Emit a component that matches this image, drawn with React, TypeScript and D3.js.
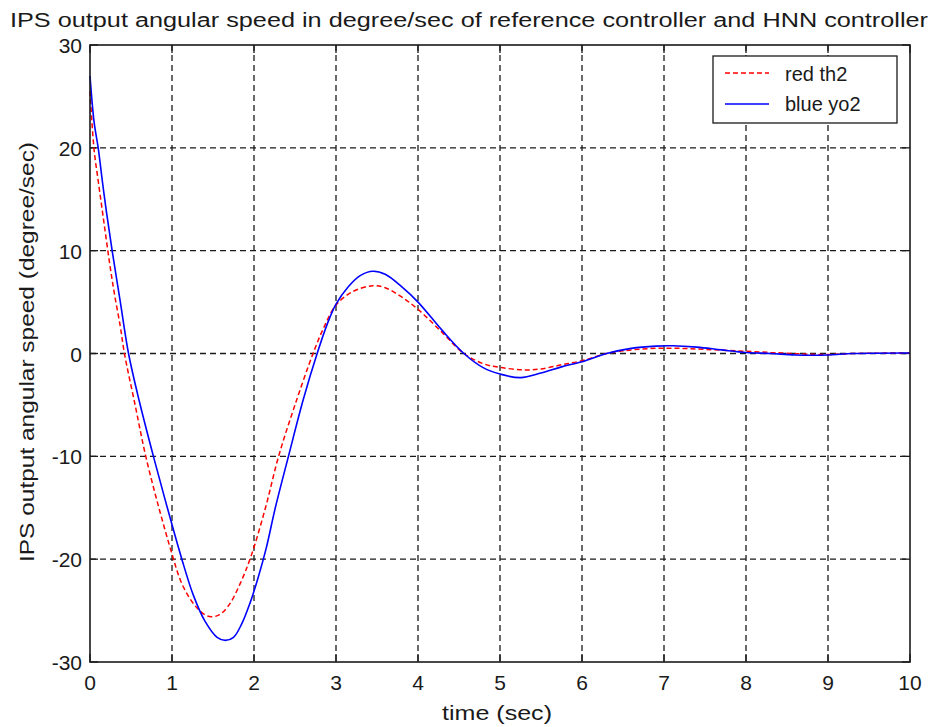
import React from 'react'
import * as d3 from 'd3'

// time samples (sec) and readings (degree/sec) for both controllers
const redT = [0, 0.05, 0.1, 0.15, 0.2, 0.25, 0.3, 0.37, 0.42, 0.55, 0.68, 0.84, 1.0, 1.1, 1.2, 1.3, 1.4, 1.48, 1.58, 1.7, 1.83, 1.96, 2.14, 2.3, 2.5, 2.72, 2.85, 3.0, 3.2, 3.45, 3.6, 3.8, 4.0, 4.3, 4.56, 4.8, 5.0, 5.3, 5.5, 5.75, 6.0, 6.3, 6.6, 6.9, 7.2, 7.5, 7.9, 8.3, 8.7, 9.0, 9.3, 10]
const redTh2 = [25.5, 19.8, 16.8, 13.9, 11, 8.2, 5.7, 2.6, 0, -5, -10, -15, -19.5, -22, -23.6, -24.7, -25.4, -25.6, -25.4, -24.4, -22.4, -19.8, -15, -10, -5, 0, 2.5, 4.7, 6.0, 6.6, 6.4, 5.5, 4.3, 2.0, 0, -1.0, -1.35, -1.6, -1.5, -1.1, -0.7, 0, 0.35, 0.5, 0.5, 0.4, 0.25, 0.1, -0.05, -0.1, 0, 0.05]

const blueT = [0, 0.05, 0.1, 0.15, 0.2, 0.27, 0.37, 0.47, 0.6, 0.78, 0.95, 1.12, 1.26, 1.4, 1.55, 1.65, 1.75, 1.85, 1.95, 2.05, 2.15, 2.26, 2.42, 2.6, 2.77, 2.9, 3.0, 3.15, 3.3, 3.45, 3.6, 3.8, 4.0, 4.3, 4.56, 4.8, 5.0, 5.25, 5.5, 5.75, 6.0, 6.3, 6.6, 6.9, 7.1, 7.4, 7.7, 8.0, 8.3, 8.6, 9.0, 9.3, 10]
const blueYo2 = [27, 22.5, 20, 16.8, 13.8, 10, 5, 0, -4.6, -10.2, -15.2, -20, -23.5, -26, -27.6, -27.9, -27.6, -26.3, -24.3, -21.8, -18.9, -15, -10, -4.5, 0, 3, 4.8, 6.5, 7.6, 8.0, 7.7, 6.5, 5.0, 2.2, 0, -1.4, -2.0, -2.35, -1.9, -1.3, -0.8, 0, 0.5, 0.72, 0.75, 0.62, 0.35, 0.1, 0, -0.15, -0.15, 0, 0.05]

const xTicks = [0, 1, 2, 3, 4, 5, 6, 7, 8, 9, 10]
const yTicks = [-30, -20, -10, 0, 10, 20, 30]

const titleText = 'IPS output angular speed in degree/sec of reference controller and HNN controller'
const legendLabels = ['red th2', 'blue yo2']

export default function App() {
  const width = 939
  const height = 727
  const left = 90, right = 910, top = 45, bottom = 662

  const x = d3.scaleLinear().domain([0, 10]).range([left, right])
  const y = d3.scaleLinear().domain([-30, 30]).range([bottom, top])

  const line = d3.line<[number, number]>()
    .x(d => x(d[0]))
    .y(d => y(d[1]))
    .curve(d3.curveCatmullRom.alpha(0.5))

  const redPts = redT.map((t, i) => [t, redTh2[i]] as [number, number])
  const bluePts = blueT.map((t, i) => [t, blueYo2[i]] as [number, number])

  const font = 'Liberation Sans, Arial, sans-serif'
  const ink = '#1a1a1a'
  const tickLen = 8

  return (
    <svg width={width} height={height} style={{position: 'absolute', left: 0, top: 0, background: '#fff'}}>
      <rect x={0} y={0} width={width} height={height} fill="#fff" />
      <text x={10} y={27} fontFamily={font} fontSize={20} fill={ink}
        textLength={918} lengthAdjust="spacingAndGlyphs">{titleText}</text>

      {/* grid */}
      <g stroke={ink} strokeWidth={1.3} strokeDasharray="6,4">
        {xTicks.slice(1, -1).map(t => (
          <line key={'gx' + t} x1={x(t)} x2={x(t)} y1={top} y2={bottom} />
        ))}
        {yTicks.slice(1, -1).map(v => (
          <line key={'gy' + v} x1={left} x2={right} y1={y(v)} y2={y(v)} />
        ))}
      </g>

      {/* ticks on all sides, pointing in */}
      <g stroke={ink} strokeWidth={1.3}>
        {xTicks.map(t => (
          <g key={'tx' + t}>
            <line x1={x(t)} x2={x(t)} y1={bottom} y2={bottom - tickLen} />
            <line x1={x(t)} x2={x(t)} y1={top} y2={top + tickLen} />
          </g>
        ))}
        {yTicks.map(v => (
          <g key={'ty' + v}>
            <line x1={left} x2={left + tickLen} y1={y(v)} y2={y(v)} />
            <line x1={right} x2={right - tickLen} y1={y(v)} y2={y(v)} />
          </g>
        ))}
      </g>

      {/* curves */}
      <path d={line(redPts) || ''} fill="none" stroke="#ff0000" strokeWidth={1.5} strokeDasharray="5,3" />
      <path d={line(bluePts) || ''} fill="none" stroke="#0000ff" strokeWidth={1.6} />

      <rect x={left} y={top} width={right - left} height={bottom - top} fill="none" stroke={ink} strokeWidth={1.6} />

      {/* tick labels */}
      <g fontFamily={font} fontSize={21} fill={ink}>
        {xTicks.map(t => (
          <text key={'lx' + t} x={x(t)} y={690} textAnchor="middle">{t}</text>
        ))}
        {yTicks.map(v => (
          <text key={'ly' + v} x={82} y={y(v) + 8} textAnchor="end">{v}</text>
        ))}
      </g>

      <text x={497} y={720} fontFamily={font} fontSize={20} fill={ink} textAnchor="middle"
        textLength={110} lengthAdjust="spacingAndGlyphs">time (sec)</text>
      <text transform="translate(34,352) rotate(-90)" fontFamily={font} fontSize={20} fill={ink}
        textAnchor="middle" textLength={420} lengthAdjust="spacingAndGlyphs">IPS output angular speed (degree/sec)</text>

      {/* legend */}
      <rect x={713} y={56} width={184} height={67} fill="#fff" stroke={ink} strokeWidth={1.3} />
      <line x1={725} x2={769} y1={73} y2={73} stroke="#ff0000" strokeWidth={1.5} strokeDasharray="5,3" />
      <line x1={725} x2={769} y1={104} y2={104} stroke="#0000ff" strokeWidth={1.6} />
      <text x={785} y={81} fontFamily={font} fontSize={20} fill={ink}>{legendLabels[0]}</text>
      <text x={785} y={111} fontFamily={font} fontSize={20} fill={ink}>{legendLabels[1]}</text>
    </svg>
  )
}
